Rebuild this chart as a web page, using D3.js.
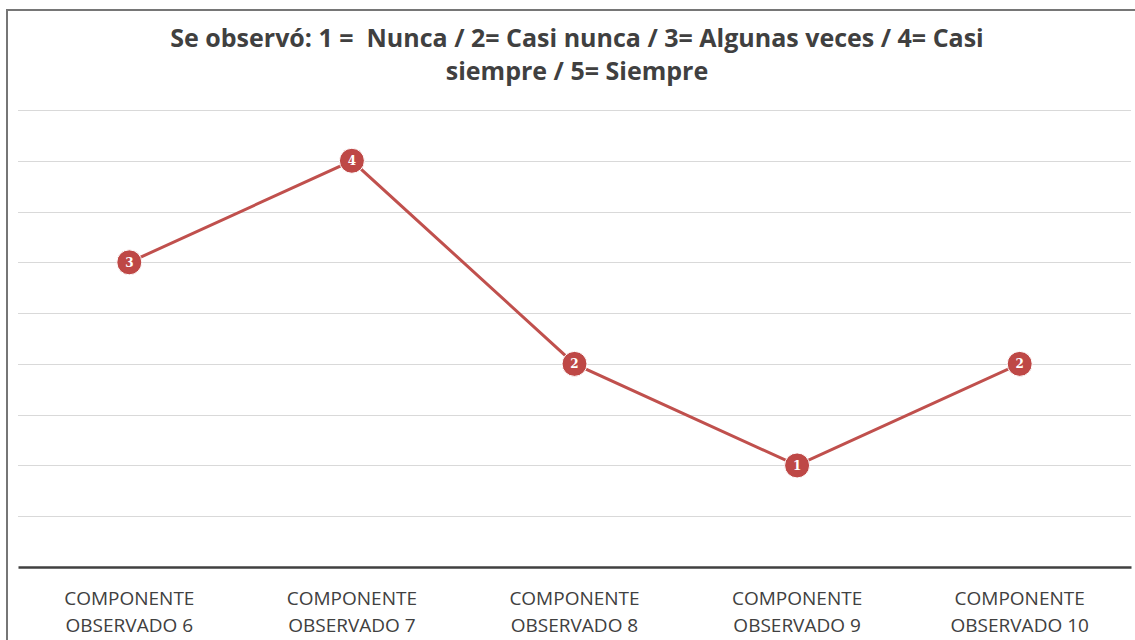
<!DOCTYPE html>
<html>
<head>
<meta charset="utf-8">
<script src="https://cdn.jsdelivr.net/npm/d3@7"></script>
<style>
  html, body { margin: 0; padding: 0; background: #fff; }
  svg { display: block; }
</style>
</head>
<body>
<svg width="1135" height="640"></svg>
<script>
// Data
const categories = ["COMPONENTE OBSERVADO 6", "COMPONENTE OBSERVADO 7", "COMPONENTE OBSERVADO 8", "COMPONENTE OBSERVADO 9", "COMPONENTE OBSERVADO 10"];
const labelLines = [
  ["COMPONENTE", "OBSERVADO 6"],
  ["COMPONENTE", "OBSERVADO 7"],
  ["COMPONENTE", "OBSERVADO 8"],
  ["COMPONENTE", "OBSERVADO 9"],
  ["COMPONENTE", "OBSERVADO 10"]
];
const values = [3, 4, 2, 1, 2];
const gridTicks = [0.5, 1, 1.5, 2, 2.5, 3, 3.5, 4, 4.5];
const titleLines = ["Se observó: 1 =  Nunca / 2= Casi nunca / 3= Algunas veces / 4= Casi", "siempre / 5= Siempre"];

const svg = d3.select("svg"),
      width = +svg.attr("width"),
      height = +svg.attr("height"),
      margin = {top: 110, right: 4, bottom: 73, left: 18};

const red = "#C0504D";
const font = "'Open Sans', 'Liberation Sans', sans-serif";

const x = d3.scaleBand()
    .domain(categories)
    .range([margin.left, width - margin.right]);

const y = d3.scaleLinear()
    .domain([0, 4.5])
    .range([height - margin.bottom, margin.top]);

// Frame (left + top border)
svg.append("path")
    .attr("d", `M7,${height} V10 H${width}`)
    .attr("fill", "none")
    .attr("stroke", "#767676")
    .attr("stroke-width", 2);

// Gridlines
svg.append("g")
    .selectAll("line")
    .data(gridTicks)
    .join("line")
    .attr("x1", margin.left)
    .attr("x2", width - margin.right)
    .attr("y1", d => Math.round(y(d)) + 0.5)
    .attr("y2", d => Math.round(y(d)) + 0.5)
    .attr("stroke", "#d9d9d9")
    .attr("stroke-width", 1);

// Category axis
const xAxis = svg.append("g")
    .attr("transform", `translate(0,${Math.round(y(0))})`)
    .call(d3.axisBottom(x).tickSize(0).tickFormat(""));
xAxis.select(".domain").attr("stroke", "#404040").attr("stroke-width", 2.5);

svg.append("g")
    .selectAll("text")
    .data(categories)
    .join("text")
    .attr("text-anchor", "middle")
    .attr("font-family", font)
    .attr("font-size", 19)
    .attr("fill", "#404040")
    .each(function(d, i) {
        const t = d3.select(this);
        labelLines[i].forEach((line, j) => {
            t.append("tspan")
                .attr("x", x(d) + x.bandwidth() / 2)
                .attr("y", 605 + j * 27)
                .text(line);
        });
    });

// Title
svg.append("g")
    .selectAll("text")
    .data(titleLines)
    .join("text")
    .attr("x", 577)
    .attr("y", (d, i) => 47 + i * 33)
    .attr("text-anchor", "middle")
    .attr("font-family", font)
    .attr("font-weight", "bold")
    .attr("font-size", 25)
    .attr("fill", "#404040")
    .style("white-space", "pre")
    .text(d => d);

// Line
const line = d3.line()
    .x((d, i) => x(categories[i]) + x.bandwidth() / 2)
    .y(d => y(d));

svg.append("path")
    .datum(values)
    .attr("fill", "none")
    .attr("stroke", red)
    .attr("stroke-width", 3)
    .attr("d", line);

// Markers with labels
const pts = svg.append("g")
    .selectAll("g")
    .data(values)
    .join("g")
    .attr("transform", (d, i) => `translate(${x(categories[i]) + x.bandwidth() / 2},${y(d)})`);

pts.append("circle")
    .attr("r", 12.5)
    .attr("fill", "#BE4846")
    .attr("stroke", "#fff")
    .attr("stroke-width", 1);

pts.append("text")
    .attr("text-anchor", "middle")
    .attr("dy", "0.35em")
    .attr("font-family", "'DejaVu Serif', serif")
    .attr("font-weight", "bold")
    .attr("font-size", 12)
    .attr("fill", "#fff")
    .text(d => d);
</script>
</body>
</html>
